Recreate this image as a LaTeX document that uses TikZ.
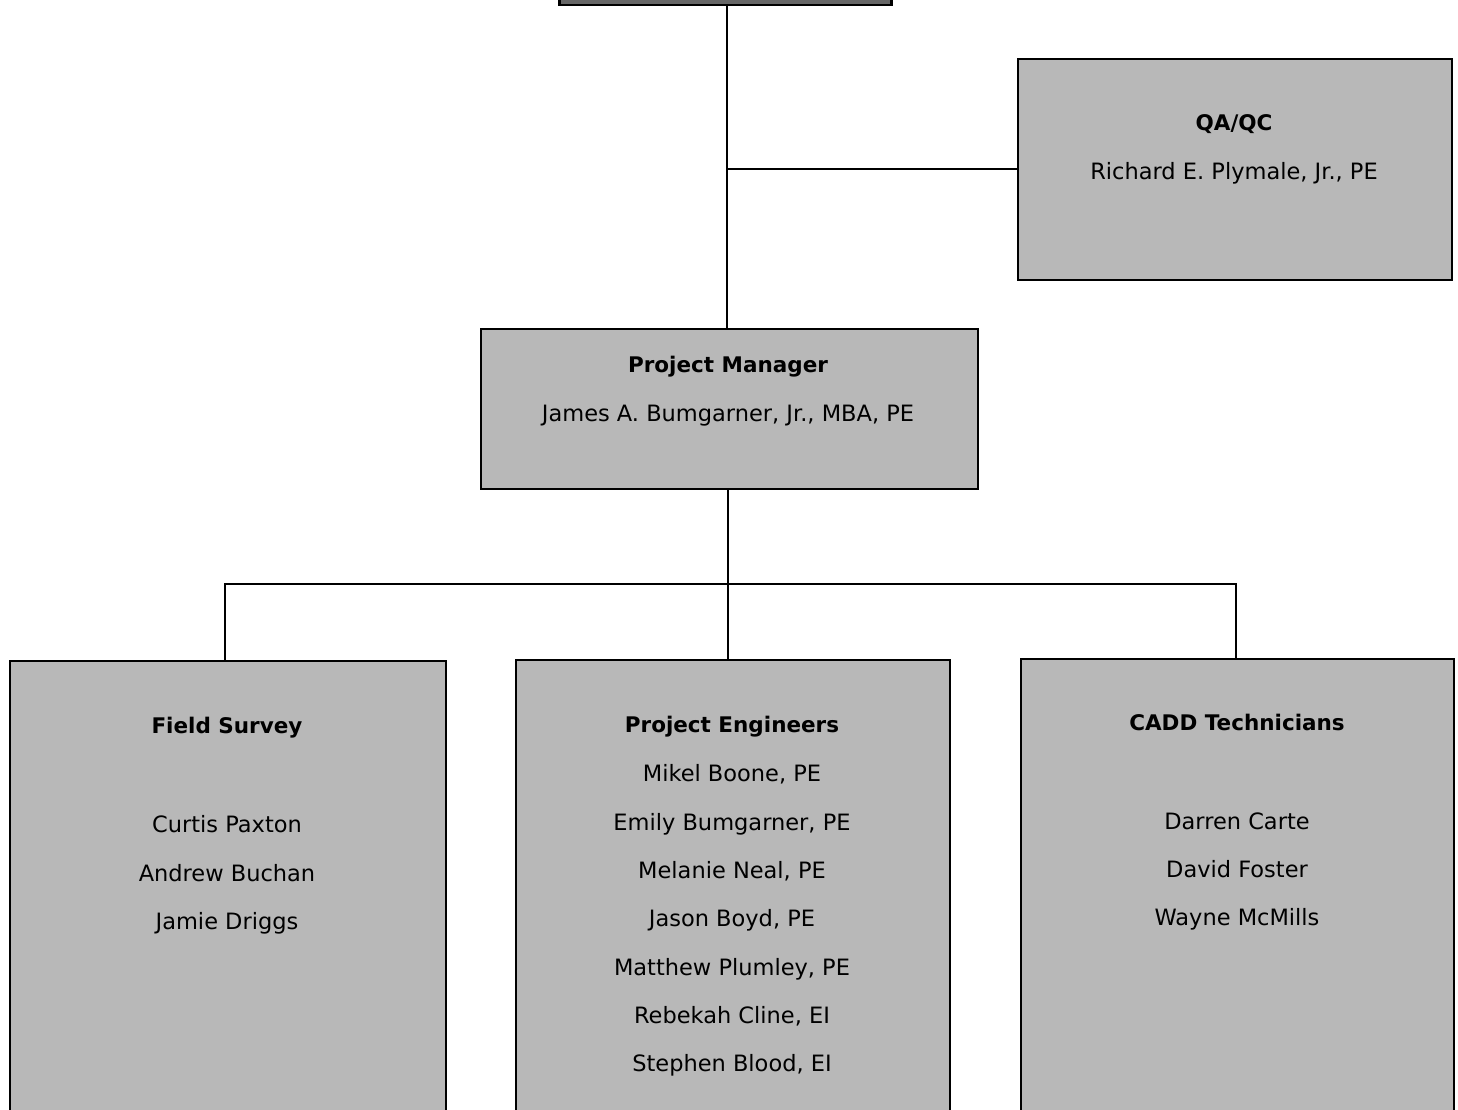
\documentclass[tikz,border=0pt]{standalone}
\usepackage{fontspec}
\setmainfont{DejaVu Sans}
\begin{document}
\begin{tikzpicture}[x=1pt,y=-1pt,
  box/.style={draw=black,line width=1.6pt,fill=black!28,inner sep=0pt,anchor=north west},
  conn/.style={draw=black,line width=1.6pt},
  ttl/.style={font=\fontsize{21.5}{24}\selectfont\bfseries,text height=15pt,text depth=5pt,inner sep=0pt},
  nm/.style={font=\fontsize{22.5}{25}\selectfont,text height=15pt,text depth=5pt,inner sep=0pt}]
\useasboundingbox (0,0) rectangle (1458,1110);
\clip (0,0) rectangle (1458,1110);
% boxes
\node[box,fill=black!60,line width=2.5pt,minimum width=332pt,minimum height=50pt] (top) at (558,-46) {};
\node[box,minimum width=434pt,minimum height=221pt] (qa) at (1017,58) {};
\node[box,minimum width=497pt,minimum height=160pt] (pm) at (480,328) {};
\node[box,minimum width=436pt,minimum height=480pt] (fs) at (9,660) {};
\node[box,minimum width=434pt,minimum height=480pt] (pe) at (515,659) {};
\node[box,minimum width=433pt,minimum height=480pt] (cadd) at (1020,658) {};
% connectors
\coordinate (j1) at (727,169);
\coordinate (j2) at (728,584);
\draw[conn] (top.south -| j1) -- (pm.north -| j1);
\draw[conn] (j1) -- (qa.west |- j1);
\draw[conn] (pm.south -| j2) -- (j2);
\draw[conn] (fs.north -| 225,0) -- (225,584) -- (1236,584) -- (cadd.north -| 1236,0);
\draw[conn] (j2) -- (pe.north -| j2);
% texts
\node[ttl] (qat) at (1234,126) {QA/QC};
\node[nm] (qan) at (1234,175) {Richard E. Plymale, Jr., PE};
\node[ttl] (pmt) at (728,367) {Project Manager};
\node[nm] (pmn) at (728,416) {James A. Bumgarner, Jr., MBA, PE};
\node[ttl] (fst) at (227,728) {Field Survey};
\node[nm] (fs1) at (227,827) {Curtis Paxton};
\node[nm] (fs2) at (227,876) {Andrew Buchan};
\node[nm] (fs3) at (227,924) {Jamie Driggs};
\node[ttl] (pet) at (732,727) {Project Engineers};
\node[nm] (pe1) at (732,776) {Mikel Boone, PE};
\node[nm] (pe2) at (732,825) {Emily Bumgarner, PE};
\node[nm] (pe3) at (732,873) {Melanie Neal, PE};
\node[nm] (pe4) at (732,921) {Jason Boyd, PE};
\node[nm] (pe5) at (732,970) {Matthew Plumley, PE};
\node[nm] (pe6) at (732,1018) {Rebekah Cline, EI};
\node[nm] (pe7) at (732,1066) {Stephen Blood, EI};
\node[ttl] (cat) at (1237,725) {CADD Technicians};
\node[nm] (ca1) at (1237,824) {Darren Carte};
\node[nm] (ca2) at (1237,872) {David Foster};
\node[nm] (ca3) at (1237,920) {Wayne McMills};
\end{tikzpicture}
\end{document}
